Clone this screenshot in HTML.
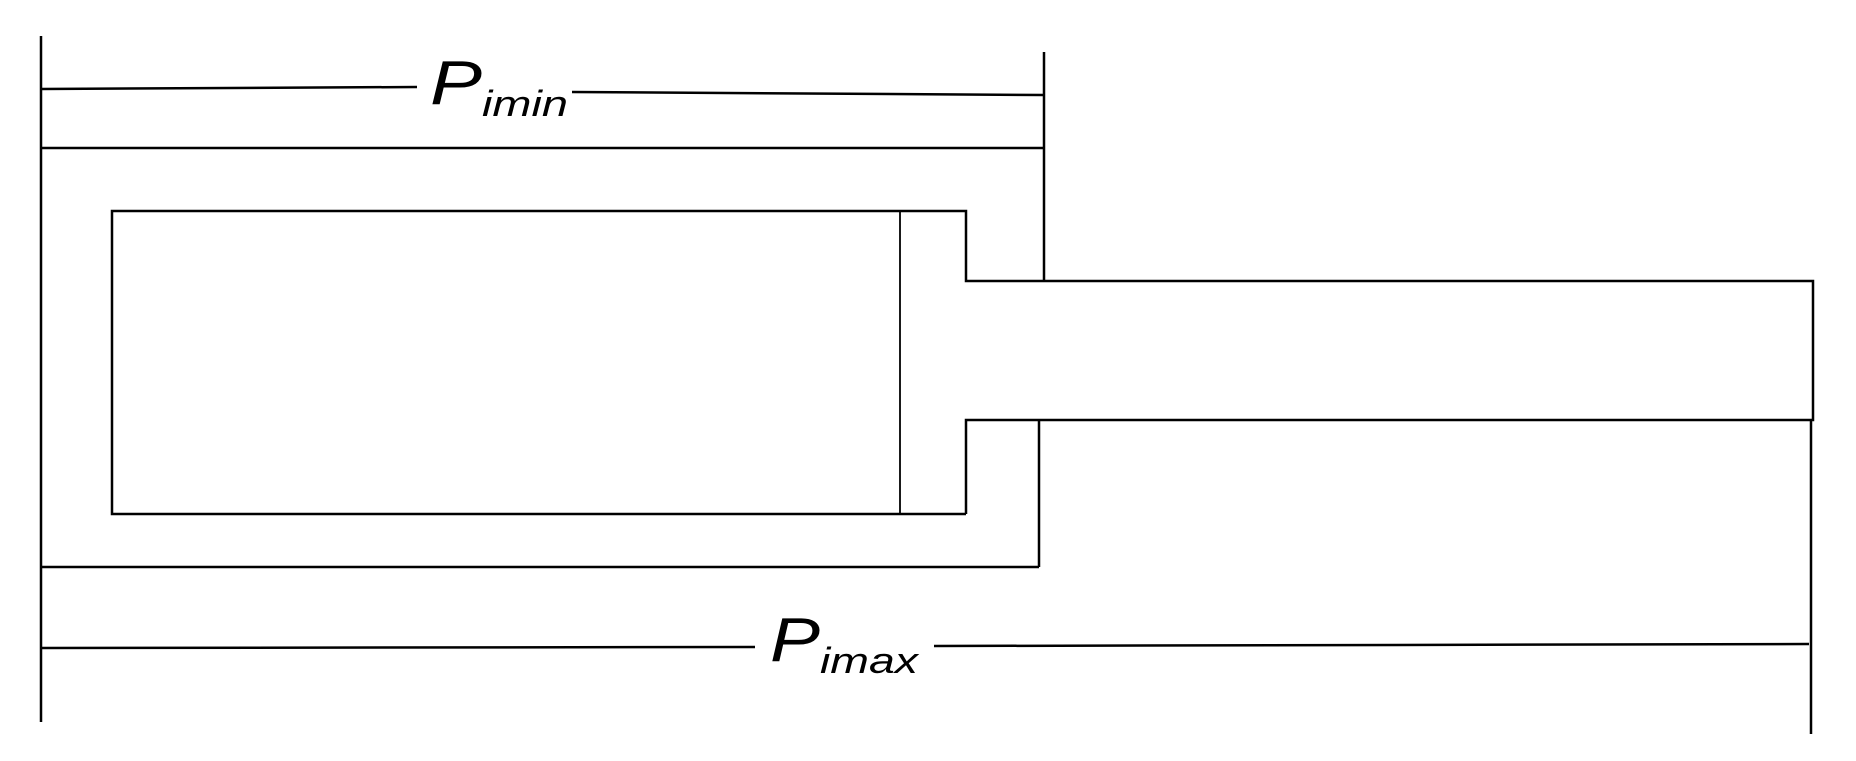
<!DOCTYPE html>
<html><head><style>body{margin:0;background:#fff}svg{display:block}</style></head><body>
<svg width="1856" height="761" viewBox="0 0 1856 761" xmlns="http://www.w3.org/2000/svg">
<g stroke="#000" stroke-width="2.5" fill="none">
<line x1="41" y1="36" x2="41" y2="722"/>
<line x1="1044" y1="52" x2="1044" y2="281"/>
<line x1="41" y1="89" x2="417" y2="87"/>
<line x1="572" y1="92" x2="1044" y2="95"/>
<line x1="41" y1="148" x2="1044" y2="148"/>
<line x1="41" y1="567" x2="1039" y2="567"/>
<line x1="1039" y1="420" x2="1039" y2="567"/>
<polyline points="966,514 112,514 112,211 966,211 966,281 1813,281 1813,420 966,420 966,514"/>
<line x1="900" y1="211" x2="900" y2="514" stroke-width="1.8"/>
<line x1="41" y1="648" x2="755" y2="647"/>
<line x1="934" y1="646" x2="1809" y2="644"/>
<line x1="1811" y1="420" x2="1811" y2="734"/>
</g>
<g font-family="Liberation Sans, sans-serif" font-style="italic" fill="#000">
<text x="430" y="104" font-size="62" textLength="52" lengthAdjust="spacingAndGlyphs">P</text>
<text x="482" y="116" font-size="36" textLength="86" lengthAdjust="spacingAndGlyphs">imin</text>
<text x="770" y="661" font-size="62" textLength="50" lengthAdjust="spacingAndGlyphs">P</text>
<text x="820" y="673" font-size="36" textLength="98" lengthAdjust="spacingAndGlyphs">imax</text>
</g>
</svg>
</body></html>
